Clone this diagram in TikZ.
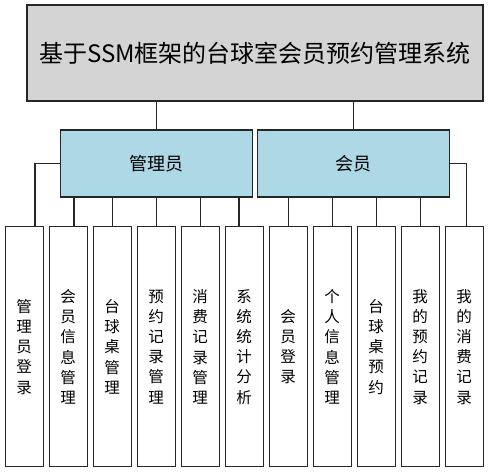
\documentclass[tikz,border=0pt]{standalone}
\usepackage{fontspec}
\setmainfont{Noto Sans CJK SC}
\begin{document}
\begin{tikzpicture}[x=1pt,y=-1pt,
  box/.style={draw=black!85,line width=1.1pt,inner sep=0pt},
  topbox/.style={box,fill=black!17,minimum width=456pt,minimum height=96pt,font=\fontsize{24}{28}\selectfont},
  midbox/.style={box,fill={rgb,255:red,173;green,216;blue,230},minimum width=192pt,minimum height=67pt,font=\fontsize{18}{22}\selectfont},
  leafbox/.style={box,fill=white,minimum width=38.3pt,minimum height=240pt,align=center,font=\fontsize{15.5}{20.2}\selectfont},
  link/.style={draw=black!85,line width=1.1pt}]
\useasboundingbox (0,0) rectangle (489,473);
\node[topbox] (top) at (255,53) {基于SSM框架的台球室会员预约管理系统};
\node[midbox] (mgr) at (156.5,163.5) {管理员};
\node[midbox] (mem) at (353.7,163.5) {会员};
\foreach \i/\t in {1/管\\理\\员\\登\\录,
                   2/会\\员\\信\\息\\管\\理,
                   3/台\\球\\桌\\管\\理,
                   4/预\\约\\记\\录\\管\\理,
                   5/消\\费\\记\\录\\管\\理,
                   6/系\\统\\统\\计\\分\\析,
                   7/会\\员\\登\\录,
                   8/个\\人\\信\\息\\管\\理,
                   9/台\\球\\桌\\预\\约,
                   10/我\\的\\预\\约\\记\\录,
                   11/我\\的\\消\\费\\记\\录}
  \node[leafbox] (l\i) at ({24.2+44*(\i-1)},346.8) {\t};
\draw[link] (top.south -| mgr.north) -- (mgr.north);
\draw[link] (top.south -| mem.north) -- (mem.north);
\draw[link] (mgr.west) -| ([xshift=10.8pt]l1.north);
\draw[link] (mem.east) -| ([xshift=2.5pt]l11.north);
\foreach \i/\d in {2/5.8,3/0.5,4/0.5,5/0.5,6/-5.2}
  \draw[link] ([xshift=\d pt]l\i.north) -- ([xshift=\d pt]l\i.north |- mgr.south);
\foreach \i/\d in {7/0.5,8/0.1,9/0.1,10/0.5}
  \draw[link] ([xshift=\d pt]l\i.north) -- ([xshift=\d pt]l\i.north |- mem.south);
\end{tikzpicture}
\end{document}
